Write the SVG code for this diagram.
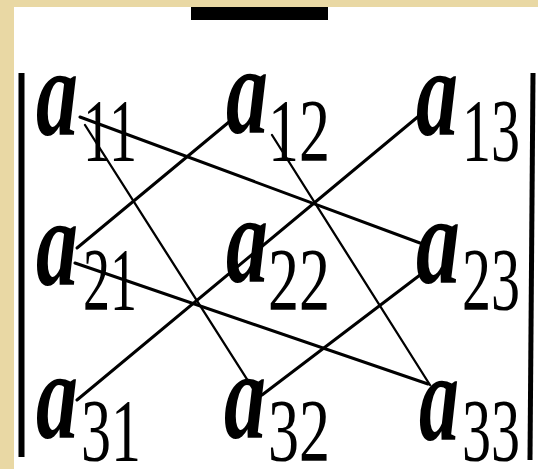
<svg xmlns="http://www.w3.org/2000/svg" width="538" height="469" viewBox="0 0 538 469">
<style>
.a{font-family:"Liberation Serif",serif;font-style:italic;font-weight:bold;font-size:124px;fill:#000}
.s{font-family:"Liberation Serif",serif;font-size:88px;fill:#000}
.ln{stroke:#000;fill:none;stroke-linecap:round}
.w{stroke-width:3}
.n{stroke-width:2.3}
</style>
<rect width="538" height="469" fill="#fff"/>
<rect x="0" y="0" width="538" height="7" fill="#E9D8A4"/>
<rect x="0" y="0" width="14" height="469" fill="#E9D8A4"/>
<rect x="191" y="7" width="137" height="13" fill="#000"/>
<g id="bars">
<line x1="21.5" y1="73" x2="21.5" y2="457" stroke="#000" stroke-width="6"/>
<line x1="533" y1="73" x2="530" y2="460" stroke="#000" stroke-width="5"/>
</g>
<g id="connectors">
<line class="ln w" x1="80" y1="117" x2="420" y2="243"/>
<line class="ln w" x1="75" y1="263" x2="428" y2="384"/>
<line class="ln n" x1="85" y1="125" x2="257" y2="395"/>
<line class="ln n" x1="272" y1="135" x2="430" y2="385"/>
<line class="ln w" x1="77" y1="248" x2="235" y2="117"/>
<line class="ln w" x1="77" y1="400" x2="420" y2="115"/>
<line class="ln w" x1="262" y1="395" x2="420" y2="275"/>
</g>
<g id="a11"><text class="a" x="36" y="135" textLength="42" lengthAdjust="spacingAndGlyphs">a</text><text class="s" x="83" y="160" textLength="54" lengthAdjust="spacingAndGlyphs">11</text></g>
<g id="a12"><text class="a" x="226" y="133" textLength="42" lengthAdjust="spacingAndGlyphs">a</text><text class="s" x="268" y="160" textLength="62" lengthAdjust="spacingAndGlyphs">12</text></g>
<g id="a13"><text class="a" x="416" y="135" textLength="42" lengthAdjust="spacingAndGlyphs">a</text><text class="s" x="462" y="160" textLength="58" lengthAdjust="spacingAndGlyphs">13</text></g>
<g id="a21"><text class="a" x="36" y="285" textLength="42" lengthAdjust="spacingAndGlyphs">a</text><text class="s" x="83" y="309" textLength="54" lengthAdjust="spacingAndGlyphs">21</text></g>
<g id="a22"><text class="a" x="226" y="282" textLength="42" lengthAdjust="spacingAndGlyphs">a</text><text class="s" x="268" y="309" textLength="62" lengthAdjust="spacingAndGlyphs">22</text></g>
<g id="a23"><text class="a" x="416" y="283" textLength="44" lengthAdjust="spacingAndGlyphs">a</text><text class="s" x="462" y="309" textLength="58" lengthAdjust="spacingAndGlyphs">23</text></g>
<g id="a31"><text class="a" x="36" y="438" textLength="42" lengthAdjust="spacingAndGlyphs">a</text><text class="s" x="81" y="460" textLength="60" lengthAdjust="spacingAndGlyphs">31</text></g>
<g id="a32"><text class="a" x="224" y="438" textLength="42" lengthAdjust="spacingAndGlyphs">a</text><text class="s" x="268" y="460" textLength="62" lengthAdjust="spacingAndGlyphs">32</text></g>
<g id="a33"><text class="a" x="419" y="440" textLength="40" lengthAdjust="spacingAndGlyphs">a</text><text class="s" x="462" y="460" textLength="58" lengthAdjust="spacingAndGlyphs">33</text></g>
</svg>
